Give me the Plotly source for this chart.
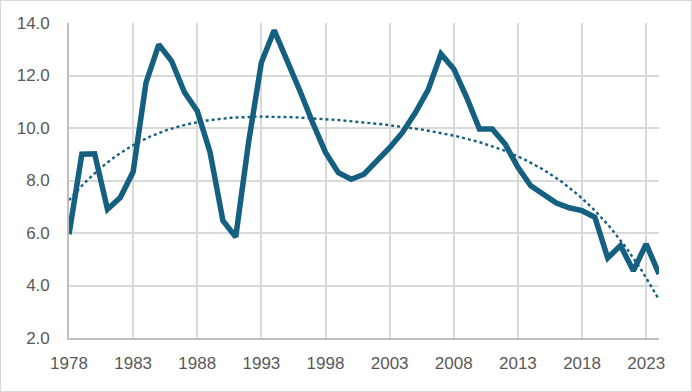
import numpy as np
import plotly.graph_objects as go

years = list(range(1978, 2025))
values = [5.95, 9.0, 9.02, 6.9, 7.35, 8.33, 11.72, 13.18, 12.55, 11.36, 10.65, 9.07,
          6.47, 5.85, 9.45, 12.5, 13.72, 12.63, 11.42, 10.2, 9.07, 8.3, 8.05, 8.24,
          8.74, 9.25, 9.83, 10.58, 11.45, 12.82, 12.25, 11.17, 9.96, 9.96, 9.39, 8.5,
          7.8, 7.49, 7.14, 6.96, 6.85, 6.6, 5.05, 5.52, 4.56, 5.58, 4.44]

x_ticks = list(range(1978, 2025, 5))
y_ticks = [2, 4, 6, 8, 10, 12, 14]
y_labels = [f"{v:.1f}" for v in y_ticks]

color = "#155f80"

# polynomial trendline (order 4) fitted to the series
xa = np.array(years, dtype=float)
coef = np.polyfit(xa - 2000, np.array(values), 4)
xt = np.linspace(1978, 2024, 300)
yt = np.polyval(coef, xt - 2000)

fig = go.Figure()
fig.add_trace(go.Scatter(x=xt, y=yt, mode="lines",
                         line=dict(color=color, width=2.4, dash="dot"),
                         hoverinfo="skip", showlegend=False))
fig.add_trace(go.Scatter(x=years, y=values, mode="lines",
                         line=dict(color=color, width=5.5),
                         showlegend=False))

font = dict(family="Liberation Sans, Arial, Helvetica, sans-serif", size=17, color="#595959")

fig.update_layout(
    width=692, height=392,
    margin=dict(l=69, r=33, t=23, b=54),
    paper_bgcolor="white", plot_bgcolor="white",
    font=font,
    xaxis=dict(range=[1978, 2024], tickvals=x_ticks, ticktext=[str(t) for t in x_ticks],
               showgrid=True, gridcolor="#d9d9d9", gridwidth=1.6,
               showline=True, linecolor="#bfbfbf", linewidth=1.6,
               zeroline=False, ticks="", ticklabelstandoff=9, tickfont=font),
    yaxis=dict(range=[2, 14], tickvals=y_ticks, ticktext=y_labels,
               showgrid=True, gridcolor="#d9d9d9", gridwidth=1.6,
               showline=True, linecolor="#bfbfbf", linewidth=1.6,
               zeroline=False, ticks="", ticklabelstandoff=14, tickfont=font),
    shapes=[dict(type="rect", xref="paper", yref="paper",
                 x0=(0.5 - 69) / 590, x1=(691.5 - 69) / 590,
                 y0=(338 - 391.5) / 315, y1=(338 - 0.5) / 315,
                 line=dict(color="#d9d9d9", width=1.2), fillcolor="rgba(0,0,0,0)",
                 layer="below")],
)

fig.write_html("out.html", config={"displayModeBar": False},
               post_script="document.body.style.margin='0';document.body.style.overflow='hidden';")
